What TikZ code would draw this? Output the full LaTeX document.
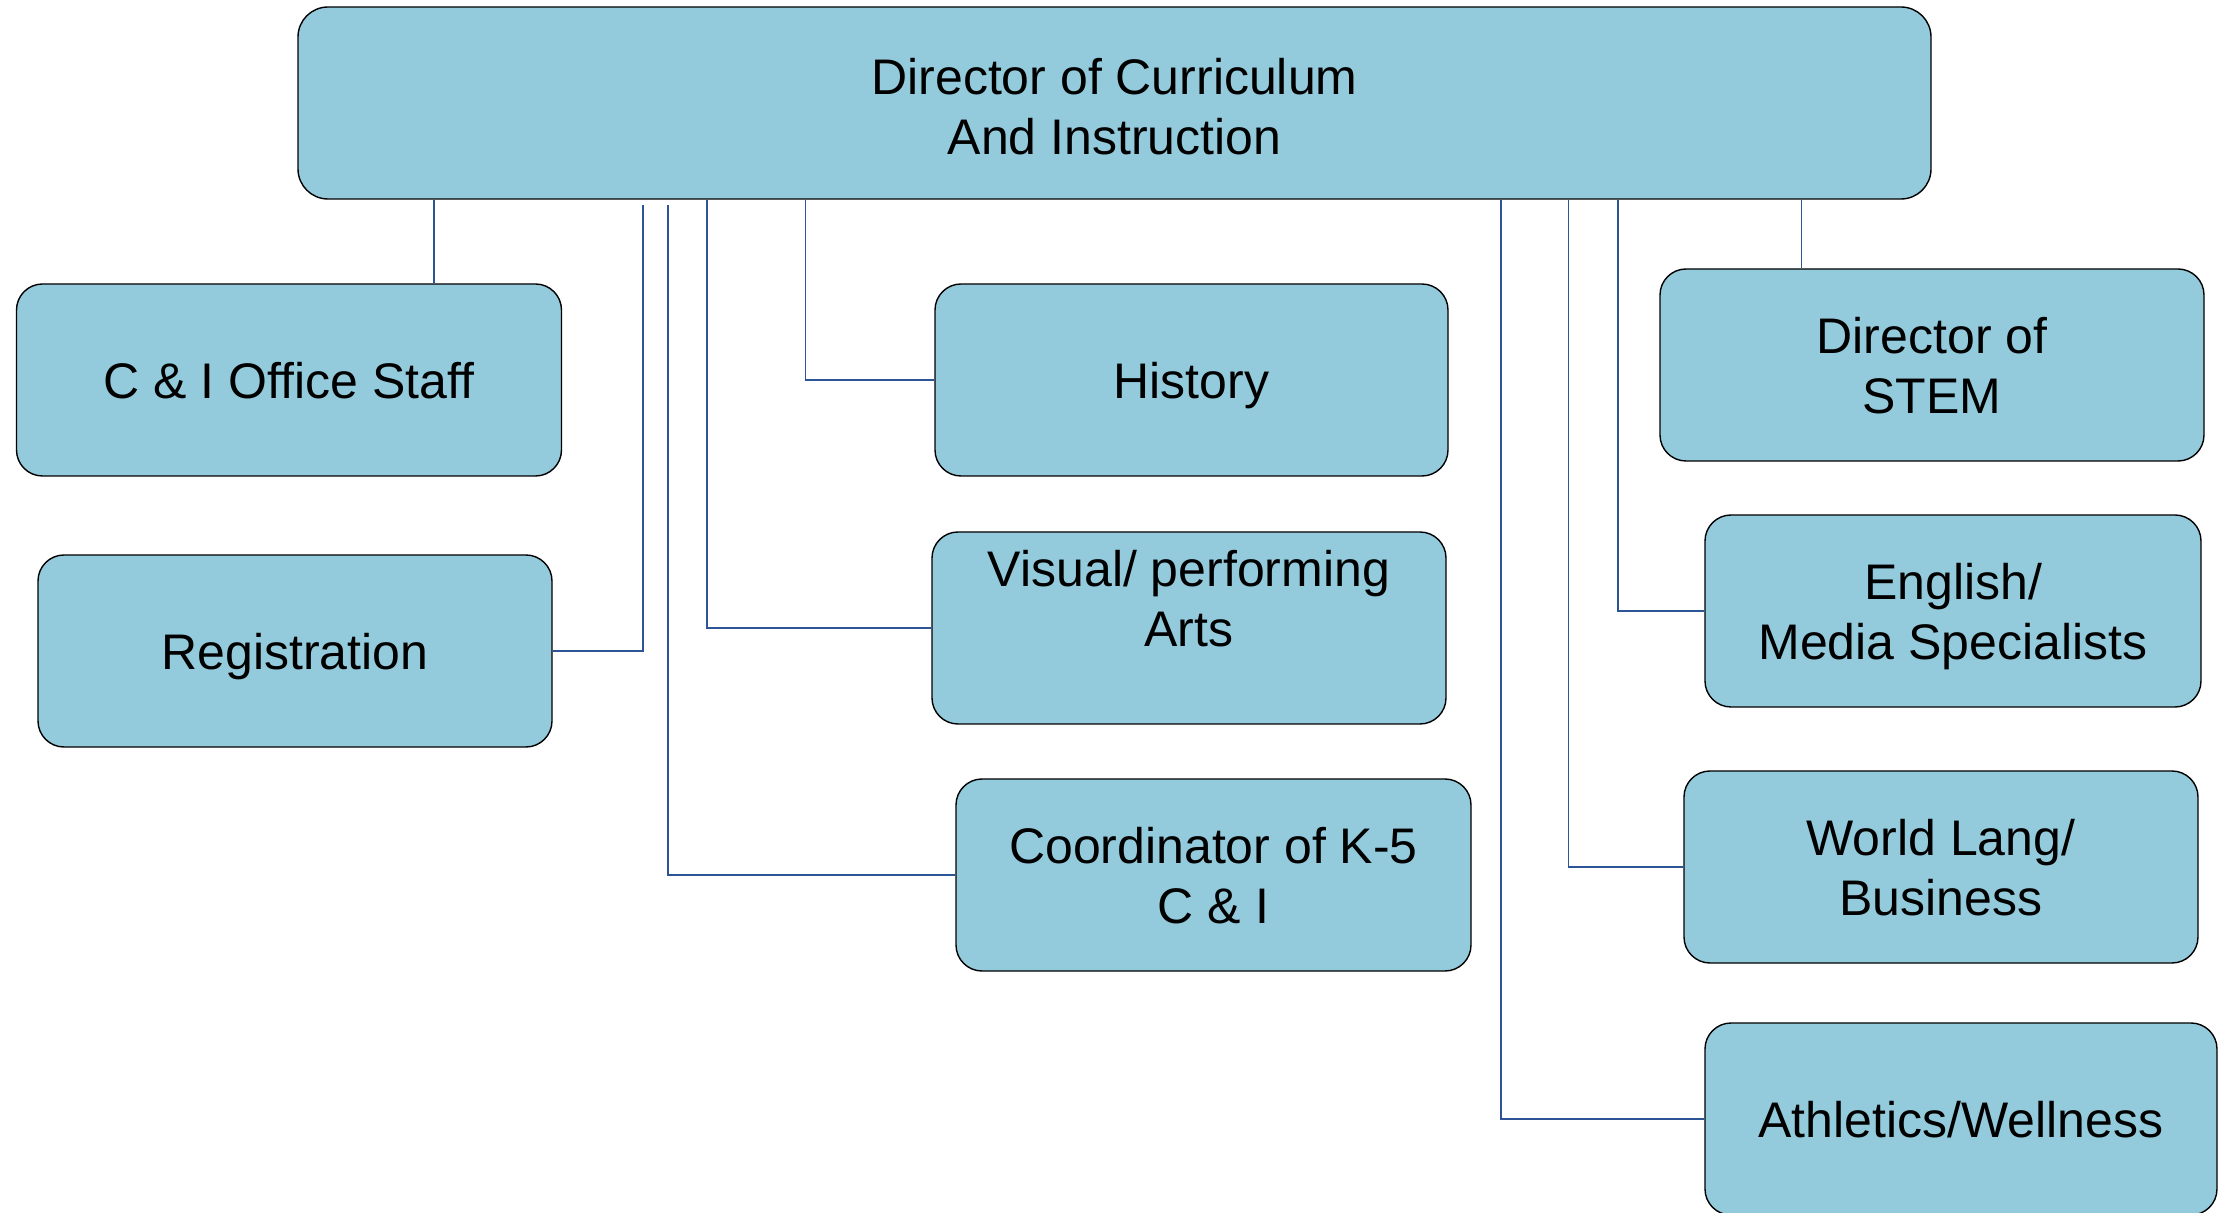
\documentclass[tikz,border=0pt]{standalone}
\usepackage{fontspec}
\setmainfont{Liberation Sans}
\definecolor{boxfill}{RGB}{147,203,220}
\definecolor{connblue}{RGB}{44,84,150}
\tikzset{
  orgbox/.style={draw=black, line width=0.7pt, fill=boxfill, rounded corners=13pt,
    inner sep=0pt, minimum height=96pt, align=center, text depth=0pt,
    font=\fontsize{25}{30}\selectfont},
  orgtext/.style={inner sep=0pt, align=center, text depth=0pt, font=\fontsize{25}{30}\selectfont},
  conn/.style={draw=connblue, line width=0.75pt}
}
\begin{document}
\begin{tikzpicture}[x=0.5pt,y=-0.5pt]
\useasboundingbox (0,0) rectangle (2218,1213);
% boxes
\node[orgbox, rounded corners=15pt, minimum width=816.5pt] (top) at (1114.5,103) {};
\node[orgtext] (toptext) at ([yshift=-1.5pt]top.center) {Director of Curriculum\\And Instruction};
\node[orgbox, minimum width=272.5pt] (staff) at (289,380) {C \& I Office Staff};
\node[orgbox, minimum width=257pt] (reg) at (295,651) {Registration};
\node[orgbox, minimum width=256.5pt] (hist) at (1191.5,380) {History};
\node[orgbox, minimum width=257pt] (vis) at (1189,628) {};
\node[orgtext] (vistext) at ([yshift=15pt]vis.center) {Visual/ performing\\Arts};
\node[orgbox, minimum width=257.5pt] (coord) at (1213.5,875) {Coordinator of K-5\\C \& I};
\node[orgbox, minimum width=272pt] (stem) at (1932,365) {Director of\\STEM};
\node[orgbox, minimum width=248pt] (eng) at (1953,611) {English/\\Media Specialists};
\node[orgbox, minimum width=257pt] (world) at (1941,867) {World Lang/\\Business};
\node[orgbox, minimum width=256pt] (ath) at (1961,1119) {Athletics/Wellness};
% connector x positions
\coordinate (xs) at (434,0);
\coordinate (xr) at (643,205);
\coordinate (xc) at (668,205);
\coordinate (xv) at (707,0);
\coordinate (xh) at (805.5,0);
\coordinate (xa) at (1501,0);
\coordinate (xw) at (1568.5,0);
\coordinate (xe) at (1618,0);
\coordinate (xst) at (1801.6,0);
% connectors
\draw[conn] (top.south -| xs) -- (staff.north -| xs);
\draw[conn] (xr) |- (reg.east);
\draw[conn] (xc) |- (coord.west);
\draw[conn] (top.south -| xv) |- (vis.west);
\draw[conn] (top.south -| xh) |- (hist.west);
\draw[conn] (top.south -| xa) |- (ath.west);
\draw[conn] (top.south -| xw) |- (world.west);
\draw[conn] (top.south -| xe) |- (eng.west);
\draw[conn] (top.south -| xst) -- (stem.north -| xst);
\end{tikzpicture}
\end{document}
